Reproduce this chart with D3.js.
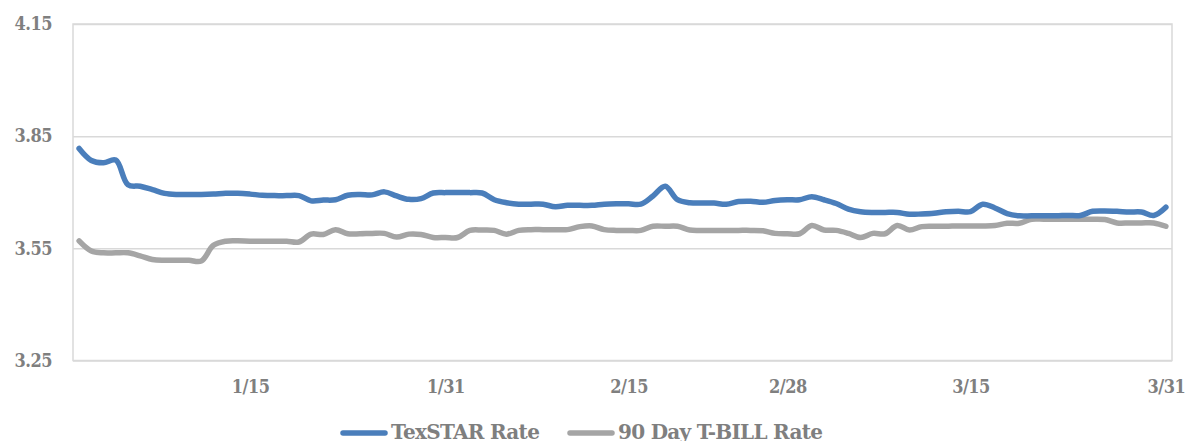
<!DOCTYPE html>
<html>
<head>
<meta charset="utf-8">
<script src="https://cdn.jsdelivr.net/npm/d3@7"></script>
<style>
  body { margin: 0; background: #fff; }
  .chart text { font-family: "DejaVu Serif Condensed", "DejaVu Serif", serif; font-weight: bold; fill: #7f7f7f; }
</style>
</head>
<body>
<div id="rates"></div>
<script>
// daily categories, 1/1 .. 3/31
const days = d3.timeDay.range(new Date(2023, 0, 1), new Date(2023, 3, 1));
const tickLabels = ["1/15", "1/31", "2/15", "2/28", "3/15", "3/31"];
const yTicks = [3.25, 3.55, 3.85, 4.15];

const texstar = [
  3.817, 3.785, 3.779, 3.786, 3.720, 3.716, 3.707, 3.697, 3.694, 3.694,
  3.694, 3.695, 3.697, 3.697, 3.695, 3.692, 3.691, 3.691, 3.691, 3.677,
  3.679, 3.680, 3.692, 3.694, 3.693, 3.701, 3.690, 3.681, 3.683, 3.698,
  3.699, 3.699, 3.699, 3.698, 3.680, 3.672, 3.668, 3.668, 3.668, 3.661,
  3.665, 3.665, 3.665, 3.668, 3.669, 3.669, 3.668, 3.690, 3.716, 3.680,
  3.672, 3.671, 3.671, 3.668, 3.675, 3.676, 3.673, 3.678, 3.680, 3.680,
  3.688, 3.680, 3.670, 3.655, 3.648, 3.646, 3.646, 3.646, 3.641, 3.642,
  3.644, 3.648, 3.649, 3.648, 3.668, 3.658, 3.643, 3.637, 3.637, 3.637,
  3.637, 3.638, 3.638, 3.649, 3.650, 3.649, 3.647, 3.647, 3.638, 3.660
];
const tbill = [
  3.570, 3.543, 3.538, 3.538, 3.538, 3.530, 3.520, 3.518, 3.518, 3.518,
  3.516, 3.558, 3.569, 3.570, 3.569, 3.569, 3.569, 3.569, 3.567, 3.588,
  3.587, 3.600, 3.589, 3.589, 3.590, 3.590, 3.580, 3.588, 3.587, 3.579,
  3.579, 3.579, 3.598, 3.599, 3.598, 3.588, 3.598, 3.600, 3.600, 3.600,
  3.600, 3.608, 3.610, 3.600, 3.598, 3.598, 3.598, 3.609, 3.609, 3.609,
  3.599, 3.598, 3.598, 3.598, 3.598, 3.598, 3.597, 3.590, 3.589, 3.589,
  3.611, 3.599, 3.598, 3.590, 3.579, 3.590, 3.589, 3.611, 3.599, 3.608,
  3.609, 3.609, 3.610, 3.610, 3.610, 3.611, 3.617, 3.617, 3.628, 3.628,
  3.628, 3.628, 3.628, 3.628, 3.627, 3.618, 3.618, 3.618, 3.618, 3.609
];

const w = 1186, h = 441;
const plotL = 73, plotR = 1172, plotT = 24, plotB = 360.5;
const fmtDay = d3.timeFormat("%-m/%-d");

const svg = d3.select("#rates")
  .append("svg")
  .attr("width", w)
  .attr("height", h)
  .attr("class", "chart");

const xScale = d3.scalePoint()
  .domain(days.map(fmtDay))
  .range([plotL, plotR])
  .padding(0.5);

const yScale = d3.scaleLinear()
  .domain([3.25, 4.15])
  .range([plotB, plotT]);

// gridlines + y labels
const yAxis = d3.axisLeft(yScale)
  .tickValues(yTicks)
  .tickFormat(d3.format(".2f"))
  .tickSize(-(plotR - plotL))
  .tickPadding(21);

svg.append("g")
  .attr("transform", "translate(" + plotL + ",0)")
  .call(yAxis)
  .call(g => g.select(".domain").remove())
  .call(g => g.selectAll("line").attr("stroke", "#d9d9d9").attr("stroke-width", 1.5))
  .call(g => g.selectAll("text").attr("font-size", 18).attr("letter-spacing", -0.5));

// plot border sides
svg.append("rect")
  .attr("x", plotL)
  .attr("y", plotT)
  .attr("width", plotR - plotL)
  .attr("height", plotB - plotT)
  .attr("fill", "none")
  .attr("stroke", "#d9d9d9")
  .attr("stroke-width", 1.5);

const xAxis = d3.axisBottom(xScale)
  .tickValues(tickLabels)
  .tickSize(0)
  .tickPadding(20);

svg.append("g")
  .attr("transform", "translate(0," + plotB + ")")
  .call(xAxis)
  .call(g => g.select(".domain").remove())
  .call(g => g.selectAll("text").attr("font-size", 18).attr("letter-spacing", -0.5));

const line = d3.line()
  .x((d, i) => xScale(fmtDay(days[i])))
  .y(d => yScale(d))
  .curve(d3.curveCatmullRom.alpha(0.5));

svg.append("path")
  .datum(tbill)
  .attr("fill", "none")
  .attr("stroke", "#a5a5a5")
  .attr("stroke-width", 5.5)
  .attr("stroke-linecap", "round")
  .attr("stroke-linejoin", "round")
  .attr("d", line);

svg.append("path")
  .datum(texstar)
  .attr("fill", "none")
  .attr("stroke", "#4a7ebb")
  .attr("stroke-width", 5.5)
  .attr("stroke-linecap", "round")
  .attr("stroke-linejoin", "round")
  .attr("d", line);

// legend
const legend = [
  { name: "TexSTAR Rate", color: "#4a7ebb", x: 343 },
  { name: "90 Day T-BILL Rate", color: "#a5a5a5", x: 570 }
];
const lg = svg.append("g").selectAll("g")
  .data(legend)
  .join("g")
  .attr("transform", d => "translate(" + d.x + ",433)");
lg.append("line")
  .attr("x1", 0).attr("x2", 42)
  .attr("stroke", d => d.color)
  .attr("stroke-width", 5.5)
  .attr("stroke-linecap", "round");
lg.append("text")
  .attr("x", 48)
  .attr("y", 6)
  .style("font-family", "'DejaVu Serif', serif")
  .attr("font-size", 20)
  .attr("letter-spacing", -0.7)
  .text(d => d.name);
</script>
</body>
</html>
